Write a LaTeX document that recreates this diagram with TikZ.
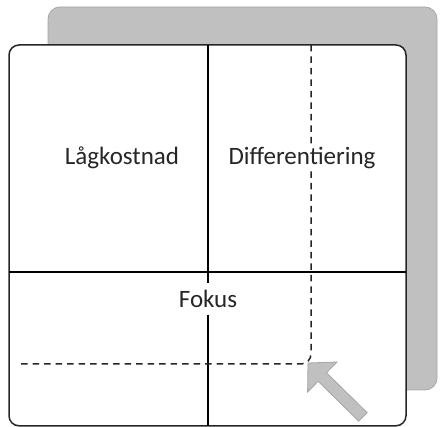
\documentclass[tikz,border=0pt]{standalone}
\usepackage{fontspec}
\setmainfont{Carlito}
\definecolor{panelgray}{HTML}{C0C0C0}
\definecolor{paneledge}{HTML}{A6A6A6}
\begin{document}
\begin{tikzpicture}[x=1pt,y=1pt,
  backpanel/.style={fill=panelgray,draw=paneledge,line width=0.8pt,rounded corners=12pt},
  frontpanel/.style={fill=white,draw=black!85,line width=1.5pt,rounded corners=10pt},
  divider/.style={draw=black,line width=1.3pt},
  mainrule/.style={draw=black,line width=2.6pt},
  focusline/.style={draw=black!85,line width=1.5pt,dash pattern=on 6.5pt off 5pt,rounded corners=10pt},
  quadlabel/.style={fill=white,inner sep=2pt,font=\fontsize{25}{30}\selectfont,text=black!85},
  pointer/.style={fill=panelgray,draw=paneledge,line width=0.8pt,line join=miter}]
  \useasboundingbox (0,0) rectangle (440,-427);

  % back and front panels
  \path[backpanel] (48,-7) rectangle (437,-390);
  \path[frontpanel] (9,-45) rectangle (406,-425.8);

  % grid of the matrix: the vertical divider pauses around the "Fokus" caption
  \coordinate (vtop) at (208,-45);
  \coordinate (vmid) at (208,-283);
  \coordinate (vresume) at (208,-315);
  \coordinate (vbot) at (208,-426);
  \coordinate (hleft) at (9,-272);
  \coordinate (hright) at (406,-272);
  \draw[divider] (vtop) -- (vmid);
  \draw[divider] (vresume) -- (vbot);
  \draw[mainrule] (hleft) -- (hright);

  % focus region outline
  \coordinate (ftop) at (311,-45);
  \coordinate (fcorner) at (311,-364);
  \coordinate (fleft) at (18,-364);
  \draw[focusline] (ftop) -- (fcorner) -- (fleft);

  % labels
  \node[quadlabel] (low) at (122,-158) {Lågkostnad};
  \node[quadlabel] (diff) at (302,-158) {Differentiering};
  \node[quadlabel] (focus) at (208,-299) {Fokus};

  % pointer into the focus corner
  \path[pointer] (308,-363) -- (337.0,-362.0) -- (326.5,-372.7) -- (367.1,-412.6)
    -- (358.7,-421.2) -- (318.1,-381.3) -- (307.6,-392.0) -- cycle;
\end{tikzpicture}
\end{document}
